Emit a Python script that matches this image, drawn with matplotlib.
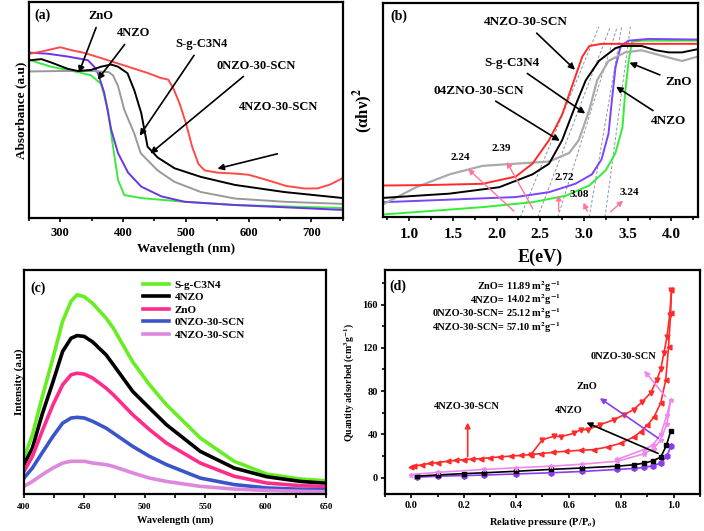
import matplotlib
matplotlib.use('Agg')
import matplotlib.pyplot as plt
from matplotlib.ticker import MultipleLocator

plt.rcParams['font.family'] = ['Liberation Serif', 'DejaVu Serif']
plt.rcParams['font.weight'] = 'bold'
plt.rcParams['mathtext.fontset'] = 'stix'
plt.rcParams['axes.linewidth'] = 1.6

# ---------------- (a) UV-vis absorbance ----------------
a_red_x = [252, 270, 285, 300, 320, 338, 365, 408, 440, 460, 472, 480, 490, 500, 510, 520, 530, 550,
           580, 600, 630, 660, 690, 710, 730, 750]
a_red_y = [0.76, 0.77, 0.78, 0.79, 0.775, 0.764, 0.74, 0.70, 0.67, 0.648, 0.64, 0.60, 0.53, 0.44,
           0.33, 0.25, 0.22, 0.21, 0.205, 0.2, 0.175, 0.148, 0.136, 0.137, 0.155, 0.185]
a_blk_x = [252, 270, 285, 312, 328, 349, 365, 381, 392, 407, 418, 429, 439, 455, 482, 524, 578, 657, 751]
a_blk_y = [0.73, 0.735, 0.72, 0.69, 0.68, 0.685, 0.70, 0.71, 0.70, 0.67, 0.59, 0.485, 0.33, 0.28, 0.23,
           0.19, 0.153, 0.12, 0.092]
a_gry_x = [252, 300, 350, 377, 384, 392, 402, 418, 428, 455, 482, 524, 578, 657, 751]
a_gry_y = [0.678, 0.68, 0.68, 0.675, 0.66, 0.61, 0.50, 0.39, 0.30, 0.22, 0.167, 0.12, 0.09, 0.075, 0.065]
a_pur_x = [252, 280, 312, 344, 354, 360, 370, 381, 392, 408, 429, 461, 498, 578, 751]
a_pur_y = [0.765, 0.76, 0.747, 0.73, 0.70, 0.67, 0.58, 0.41, 0.30, 0.21, 0.145, 0.10, 0.075, 0.06, 0.037]
a_grn_x = [252, 285, 328, 349, 365, 376, 384, 392, 402, 429, 498, 578, 751]
a_grn_y = [0.73, 0.70, 0.675, 0.66, 0.62, 0.50, 0.33, 0.176, 0.106, 0.092, 0.075, 0.06, 0.046]

# ---------------- (b) Tauc plot ----------------
b_red_x = [0.7, 1.2, 1.84, 2.22, 2.41, 2.6, 2.75, 2.9, 2.98, 3.06, 3.2, 3.36, 4.3]
b_red_y = [0.148, 0.15, 0.156, 0.19, 0.25, 0.36, 0.48, 0.656, 0.75, 0.80, 0.81, 0.81, 0.81]
b_blk_x = [0.7, 1.46, 2.03, 2.41, 2.6, 2.75, 2.9, 3.02, 3.17, 3.36, 3.44, 3.66, 3.82, 3.97, 4.12, 4.3]
b_blk_y = [0.09, 0.11, 0.14, 0.2, 0.25, 0.36, 0.52, 0.64, 0.73, 0.79, 0.80, 0.80, 0.78, 0.77, 0.77, 0.785]
b_gry_x = [0.7, 1.08, 1.46, 1.84, 2.22, 2.6, 2.83, 2.94, 3.06, 3.15, 3.28, 3.47, 3.66, 3.93, 4.12, 4.3]
b_gry_y = [0.06, 0.14, 0.2, 0.24, 0.25, 0.26, 0.30, 0.36, 0.5, 0.64, 0.73, 0.77, 0.78, 0.75, 0.73, 0.75]
b_pur_x = [0.7, 2.22, 2.6, 2.9, 3.09, 3.2, 3.28, 3.32, 3.36, 3.42, 3.51, 3.74, 4.3]
b_pur_y = [0.07, 0.094, 0.117, 0.156, 0.2, 0.27, 0.39, 0.55, 0.70, 0.80, 0.825, 0.833, 0.83]
b_grn_x = [0.7, 1.84, 2.41, 2.79, 3.06, 3.25, 3.36, 3.44, 3.47, 3.51, 3.55, 3.66, 4.3]
b_grn_y = [0.0125, 0.047, 0.07, 0.10, 0.148, 0.22, 0.30, 0.42, 0.58, 0.73, 0.82, 0.825, 0.825]
gap_low = [2.27, 2.47, 2.70, 3.06, 3.24]
gap_high = [3.17, 3.30, 3.38, 3.43, 3.53]
gap_labels = ['2.24', '2.39', '2.72', '3.08', '3.24']

# ---------------- (c) PL spectra ----------------
c_x = [400, 407, 415, 424, 432, 439, 444, 450, 457, 468, 474, 490, 504, 518, 546, 574, 601, 629, 650]
c_names = ['S-g-C3N4', '4NZO', 'ZnO', '0NZO-30-SCN', '4NZO-30-SCN']
c_sgcn = [0.16, 0.264, 0.43, 0.606, 0.77, 0.86, 0.889, 0.88, 0.85, 0.785, 0.74, 0.59, 0.487, 0.398,
          0.25, 0.146, 0.089, 0.067, 0.059]
c_4nzo = [0.131, 0.205, 0.354, 0.50, 0.636, 0.695, 0.707, 0.703, 0.678, 0.621, 0.577, 0.458, 0.383,
          0.309, 0.19, 0.116, 0.077, 0.056, 0.048]
c_zno = [0.10, 0.168, 0.279, 0.398, 0.487, 0.532, 0.539, 0.535, 0.517, 0.4725, 0.443, 0.354, 0.287,
         0.227, 0.138, 0.079, 0.049, 0.037, 0.034]
c_0nzo = [0.071, 0.116, 0.183, 0.257, 0.316, 0.339, 0.342, 0.339, 0.324, 0.294, 0.272, 0.2125, 0.168,
          0.131, 0.071, 0.042, 0.027, 0.021, 0.019]
c_4nzo30 = [0.034, 0.056, 0.086, 0.116, 0.138, 0.146, 0.146, 0.146, 0.138, 0.131, 0.123, 0.094, 0.071,
            0.056, 0.034, 0.022, 0.016, 0.012, 0.01]

# ---------------- (d) N2 isotherms ----------------
d_red_ads_x = [0.0, 0.011, 0.04, 0.07, 0.1, 0.14, 0.17, 0.2, 0.23, 0.266, 0.3, 0.34, 0.38, 0.42, 0.456,
               0.494, 0.54, 0.59, 0.646, 0.696, 0.75, 0.80, 0.85, 0.875, 0.90, 0.925, 0.951, 0.970,
               0.981, 0.989, 0.992]
d_red_ads_y = [9.8, 10.7, 12.0, 13.2, 14.0, 15.3, 16.0, 16.8, 17.2, 17.7, 18.5, 19.3, 20.0, 20.7, 21.4,
               22.3, 23.5, 24.5, 25.4, 26.0, 28.5, 32.0, 38.0, 42.6, 48.5, 56.0, 69.0, 90.0, 121, 152, 173]
d_red_des_x = [0.992, 0.985, 0.975, 0.963, 0.951, 0.935, 0.913, 0.88, 0.848, 0.81, 0.772, 0.72, 0.673,
               0.646, 0.62, 0.57, 0.544, 0.50, 0.456]
d_red_des_y = [173, 150, 130, 115, 100, 90, 78.5, 70, 63, 58, 53.6, 49, 44.5, 44.4, 41, 38, 38.3, 35.2, 21.4]
d_pink_x = [0.0, 0.1, 0.279, 0.4, 0.532, 0.65, 0.786, 0.886, 0.925, 0.951, 0.975, 0.989, 0.975, 0.951,
            0.92, 0.886, 0.786]
d_pink_y = [3.0, 5.0, 7.7, 9.2, 10.7, 12.5, 15.3, 22.0, 27.0, 35.0, 50.0, 72.0, 58.0, 40.0, 30.0,
            26.0, 17.0]
d_blk_x = [0.02, 0.1, 0.2, 0.279, 0.4, 0.532, 0.65, 0.786, 0.85, 0.886, 0.92, 0.951, 0.973, 0.989]
d_blk_y = [1.5, 2.6, 3.8, 4.6, 6.0, 7.7, 9.0, 10.7, 12.0, 13.5, 15.5, 19.0, 30.0, 43.0]
d_pur_x = [0.02, 0.1, 0.2, 0.279, 0.4, 0.532, 0.65, 0.786, 0.85, 0.886, 0.92, 0.951, 0.975, 0.989]
d_pur_y = [0.5, 1.4, 2.0, 2.5, 3.5, 4.6, 5.8, 7.7, 8.6, 9.5, 11.0, 13.5, 20.0, 29.0]
d_area_names = ['ZnO=', '4NZO=', '0NZO-30-SCN=', '4NZO-30-SCN=']
d_area_vals = ['11.89', '14.02', '25.12', '57.10']

fig = plt.figure(figsize=(7.04, 5.31), dpi=100)
axa = fig.add_axes([0.041, 0.5895, 0.446, 0.407])
axb = fig.add_axes([0.544, 0.591, 0.447, 0.403])
axc = fig.add_axes([0.034, 0.0697, 0.429, 0.422])
axd = fig.add_axes([0.547, 0.0697, 0.447, 0.422])

arrow_k = dict(arrowstyle='-|>', color='black', lw=1.2, mutation_scale=9)

# (a)
axa.plot(a_grn_x, a_grn_y, color='#3ee83e', lw=1.4)
axa.plot(a_pur_x, a_pur_y, color='#6a35e8', lw=1.4)
axa.plot(a_gry_x, a_gry_y, color='#999999', lw=1.4)
axa.plot(a_red_x, a_red_y, color='#ff4a4a', lw=1.4)
axa.plot(a_blk_x, a_blk_y, color='black', lw=1.4)
axa.set_xlim(250, 750)
axa.set_ylim(0, 1)
axa.set_yticks([])
axa.xaxis.set_major_locator(MultipleLocator(100))
axa.xaxis.set_minor_locator(MultipleLocator(50))
axa.tick_params(axis='x', direction='out', labelsize=9, width=1.2, length=3)
axa.tick_params(axis='x', which='minor', direction='out', width=1.2, length=2)
axa.set_xlabel('Wavelength (nm)', fontsize=9.5, fontweight='bold', labelpad=3)
axa.set_ylabel('Absorbance (a.u)', fontsize=9.5, fontweight='bold', labelpad=1)
axa.text(258, 0.92, '(a)', fontsize=10, fontweight='bold')
axa.annotate('ZnO', xy=(328, 0.66), xytext=(364, 0.92), fontsize=9, fontweight='bold',
             ha='center', arrowprops=arrow_k)
axa.annotate('4NZO', xy=(357, 0.63), xytext=(416, 0.84), fontsize=9, fontweight='bold',
             ha='center', arrowprops=arrow_k)
axa.annotate('S-g-C3N4', xy=(424, 0.37), xytext=(525, 0.79), fontsize=9, fontweight='bold',
             ha='center', arrowprops=arrow_k)
axa.annotate('0NZO-30-SCN', xy=(440, 0.29), xytext=(612, 0.69), fontsize=9, fontweight='bold',
             ha='center', arrowprops=arrow_k)
axa.annotate('', xy=(546, 0.225), xytext=(650, 0.30), arrowprops=arrow_k)
axa.text(647, 0.50, '4NZO-30-SCN', fontsize=9, fontweight='bold', ha='center')

# (b)
for lo, hi in zip(gap_low, gap_high):
    axb.plot([lo, hi], [0, 0.89], color='#8899aa', lw=0.7, ls=(0, (3, 2)))
axb.plot(b_grn_x, b_grn_y, color='#33ee33', lw=1.4)
axb.plot(b_pur_x, b_pur_y, color='#7a44ff', lw=1.4)
axb.plot(b_gry_x, b_gry_y, color='#aaaaaa', lw=1.6)
axb.plot(b_blk_x, b_blk_y, color='black', lw=1.4)
axb.plot(b_red_x, b_red_y, color='#ff2a2a', lw=1.4)
axb.set_xlim(0.7, 4.3)
axb.set_ylim(0, 1)
axb.set_yticks([])
axb.xaxis.set_major_locator(MultipleLocator(0.5))
axb.xaxis.set_minor_locator(MultipleLocator(0.25))
axb.xaxis.set_major_formatter(matplotlib.ticker.FormatStrFormatter('%.1f'))
axb.tick_params(axis='x', direction='out', labelsize=11, width=1.2, length=3, pad=5)
axb.tick_params(axis='x', which='minor', direction='out', width=1.2, length=2)
axb.set_xlabel('E(eV)', fontsize=13, fontweight='bold', labelpad=5)
axb.set_ylabel('(αhν)$^2$', fontsize=12, fontweight='bold', labelpad=6)
axb.text(0.78, 0.92, '(b)', fontsize=10, fontweight='bold')
arrow_p = dict(arrowstyle='-|>', color='#ff7799', lw=1.0, mutation_scale=8)
gap_tail = [(2.22, 0.02), (2.43, 0.028), (2.71, 0.016), (3.05, 0.016), (3.28, 0.016)]
gap_head = [(1.65, 0.234), (2.10, 0.27), (2.71, 0.117), (2.98, 0.08), (3.47, 0.086)]
gap_text = [(1.59, 0.28), (2.05, 0.32), (2.77, 0.185), (2.95, 0.105), (3.52, 0.115)]
for lab, t, h, p in zip(gap_labels, gap_tail, gap_head, gap_text):
    axb.annotate('', xy=h, xytext=t, arrowprops=arrow_p)
    axb.text(p[0], p[1], lab, fontsize=8, fontweight='bold', ha='center', va='center')
axb.annotate('4NZO-30-SCN', xy=(2.92, 0.68), xytext=(2.33, 0.91), fontsize=9.5, fontweight='bold',
             ha='center', va='center', arrowprops=arrow_k)
axb.annotate('S-g-C3N4', xy=(3.04, 0.477), xytext=(2.18, 0.72), fontsize=9.5, fontweight='bold',
             ha='center', va='center', arrowprops=arrow_k)
axb.annotate('04ZNO-30-SCN', xy=(2.75, 0.35), xytext=(1.80, 0.59), fontsize=9.5, fontweight='bold',
             ha='center', va='center', arrowprops=arrow_k)
axb.annotate('ZnO', xy=(3.49, 0.727), xytext=(4.08, 0.63), fontsize=9.5, fontweight='bold',
             ha='center', va='center', arrowprops=arrow_k)
axb.annotate('4NZO', xy=(3.34, 0.617), xytext=(3.97, 0.45), fontsize=9.5, fontweight='bold',
             ha='center', va='center', arrowprops=arrow_k)

# (c)
c_colors = ['#66ee22', 'black', '#ff2d8a', '#3a55c8', '#dd88dd']
for name, vals, col in zip(c_names, [c_sgcn, c_4nzo, c_zno, c_0nzo, c_4nzo30], c_colors):
    axc.plot(c_x, vals, color=col, lw=2.6, label=name)
axc.set_xlim(400, 650)
axc.set_ylim(0, 1)
axc.set_yticks([])
axc.xaxis.set_major_locator(MultipleLocator(50))
axc.xaxis.set_minor_locator(MultipleLocator(25))
axc.tick_params(axis='x', direction='out', labelsize=6.5, width=1.2, length=3)
axc.tick_params(axis='x', which='minor', direction='out', width=1.2, length=3)
axc.set_xlabel('Wavelength (nm)', fontsize=7.5, fontweight='bold', labelpad=3)
axc.set_ylabel('Intensity (a.u)', fontsize=8, fontweight='bold', labelpad=0)
axc.text(405, 0.90, '(c)', fontsize=10, fontweight='bold')
axc.legend(loc='upper left', bbox_to_anchor=(0.36, 1.0), frameon=False, fontsize=8,
           handlelength=2.4, labelspacing=0.25, handletextpad=0.5)

# (d)
axd.plot(d_pur_x, d_pur_y, color='#8a3df0', lw=1.2, marker='h', ms=4)
axd.plot(d_blk_x, d_blk_y, color='black', lw=1.2, marker='s', ms=3)
axd.plot(d_pink_x, d_pink_y, color='#ee88ee', lw=1.2, marker='*', ms=3.5)
axd.plot(d_red_ads_x, d_red_ads_y, color='#ff2a2a', lw=1.2, marker='<', ms=3.5)
axd.plot(d_red_des_x, d_red_des_y, color='#ff2a2a', lw=1.2, marker='v', ms=3.5)
axd.set_xlim(-0.1, 1.1)
axd.set_ylim(-15, 192)
axd.xaxis.set_major_locator(MultipleLocator(0.2))
axd.xaxis.set_minor_locator(MultipleLocator(0.1))
axd.yaxis.set_major_locator(MultipleLocator(40))
axd.yaxis.set_minor_locator(MultipleLocator(20))
axd.xaxis.set_major_formatter(matplotlib.ticker.FormatStrFormatter('%.1f'))
axd.tick_params(direction='out', labelsize=7.5, width=1.2, length=3, pad=2)
axd.tick_params(which='minor', direction='out', width=1.2, length=2)
axd.set_xlabel('Relative pressure (P/P$_o$)', fontsize=7.5, fontweight='bold', labelpad=4)
axd.set_ylabel('Quantity adsorbed (cm$^3$g$^{-1}$)', fontsize=7, fontweight='bold', labelpad=4)
axd.text(-0.085, 174, '(d)', fontsize=10, fontweight='bold')
for i, (nm, v) in enumerate(zip(d_area_names, d_area_vals)):
    yy = 177 - i * 12.8
    axd.text(0.355, yy, nm, fontsize=7.5, fontweight='bold', ha='right', va='center')
    axd.text(0.362, yy, v + ' m$^2$g$^{-1}$', fontsize=7.5, fontweight='bold', ha='left', va='center')
axd.annotate('', xy=(0.881, 101), xytext=(0.976, 73),
             arrowprops=dict(arrowstyle='-|>', color='#ee88ee', lw=1.2, mutation_scale=8))
axd.text(0.81, 112, '0NZO-30-SCN', fontsize=7.5, fontweight='bold', ha='center', va='center')
axd.annotate('', xy=(0.71, 75), xytext=(0.951, 35),
             arrowprops=dict(arrowstyle='-|>', color='#8a3df0', lw=1.2, mutation_scale=8))
axd.text(0.67, 84, 'ZnO', fontsize=7.5, fontweight='bold', ha='center', va='center')
axd.annotate('', xy=(0.658, 52), xytext=(0.951, 21.4),
             arrowprops=dict(arrowstyle='-|>', color='black', lw=1.2, mutation_scale=8))
axd.text(0.60, 62, '4NZO', fontsize=7.5, fontweight='bold', ha='center', va='center')
axd.annotate('', xy=(0.215, 53.6), xytext=(0.215, 16.9),
             arrowprops=dict(arrowstyle='-|>', color='#ff2a2a', lw=1.2, mutation_scale=8))
axd.text(0.21, 66, '4NZO-30-SCN', fontsize=7.5, fontweight='bold', ha='center', va='center')

fig.savefig('out.png', dpi=100)
